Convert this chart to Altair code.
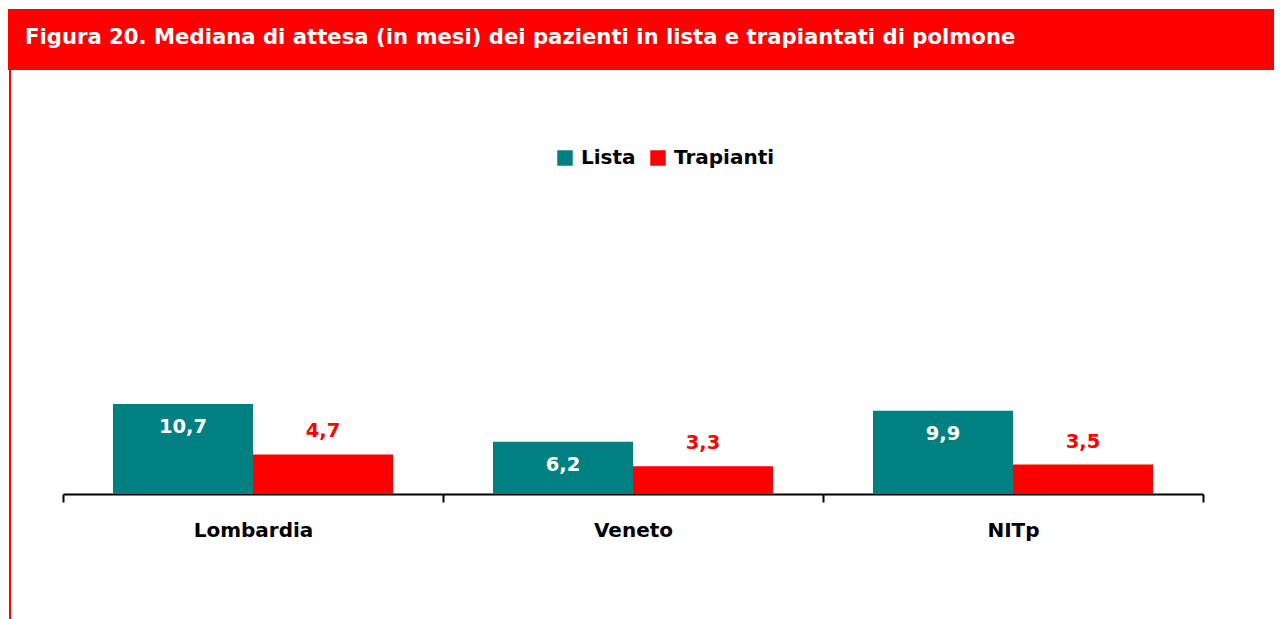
import altair as alt
import pandas as pd

regions = ["Lombardia", "Veneto", "NITp"]
series = ["Lista", "Trapianti"]
lista = [10.7, 6.2, 9.9]
trapianti = [4.7, 3.3, 3.5]
colors = ["#008080", "#FF0000"]
title_text = "Figura 20. Mediana di attesa (in mesi) dei pazienti in lista e trapiantati di polmone"

rows = []
for r, a, b in zip(regions, lista, trapianti):
    rows.append({"regione": r, "serie": "Lista", "valore": a})
    rows.append({"regione": r, "serie": "Trapianti", "valore": b})
df = pd.DataFrame(rows)
df["etichetta"] = df["valore"].map(lambda v: f"{v:.1f}".replace(".", ","))

FONT = "DejaVu Sans"

x_enc = alt.X(
    "regione:N",
    sort=regions,
    scale=alt.Scale(domain=regions, paddingInner=0, paddingOuter=0),
    axis=alt.Axis(
        title=None,
        labelAngle=0,
        labelFont=FONT,
        labelFontSize=20,
        labelFontWeight="bold",
        labelColor="black",
        labelPadding=18,
        tickBand="extent",
        tickSize=8,
        tickWidth=2,
        tickColor="black",
        domainColor="black",
        domainWidth=2,
        grid=False,
    ),
)
xo_enc = alt.XOffset(
    "serie:N",
    sort=series,
    scale=alt.Scale(domain=series, paddingInner=0, paddingOuter=0.357),
)
y_enc = alt.Y("valore:Q", scale=alt.Scale(domain=[0, 57.8]), axis=None)

base = alt.Chart(df)

bars = base.mark_bar().encode(
    x=x_enc,
    xOffset=xo_enc,
    y=y_enc,
    color=alt.Color(
        "serie:N",
        sort=series,
        scale=alt.Scale(domain=series, range=colors),
        legend=alt.Legend(
            title=None,
            orient="none",
            legendX=492,
            legendY=140,
            direction="horizontal",
            symbolType="square",
            symbolSize=240,
            symbolStrokeWidth=0,
            symbolOpacity=1,
            labelFont=FONT,
            labelFontSize=20,
            labelFontWeight="bold",
            labelColor="black",
            labelOffset=6,
            columnPadding=12,
            padding=0,
        ),
    ),
)

lab_lista = base.transform_filter(alt.datum.serie == "Lista").mark_text(
    font=FONT, fontSize=19.5, fontWeight="bold", color="white", baseline="middle", dy=23
).encode(x=x_enc, xOffset=xo_enc, y=y_enc, text="etichetta:N")

lab_trap = base.transform_filter(alt.datum.serie == "Trapianti").mark_text(
    font=FONT, fontSize=19.5, fontWeight="bold", color="#FF0000", baseline="middle", dy=-23
).encode(x=x_enc, xOffset=xo_enc, y=y_enc, text="etichetta:N")

one = pd.DataFrame({"t": [title_text]})

header = alt.Chart(one).mark_rect(color="#FF0000").encode(
    x=alt.value(-55), x2=alt.value(1211), y=alt.value(1), y2=alt.value(62)
)
header_text = alt.Chart(one).mark_text(
    font=FONT, fontSize=21.2, fontWeight="bold", color="white", align="left", baseline="middle"
).encode(x=alt.value(-38), y=alt.value(30), text="t:N")
border = alt.Chart(one).mark_rule(color="#FF0000", strokeWidth=2).encode(
    x=alt.value(-53), y=alt.value(62), y2=alt.value(611)
)

chart = (
    alt.layer(header, header_text, border, bars, lab_lista, lab_trap)
    .properties(
        width=1140,
        height=486,
        autosize=alt.AutoSizeParams(type="none"),
        padding={"left": 55, "top": 0, "right": 71, "bottom": 125},
    )
    .configure(font=FONT)
    .configure_view(strokeWidth=0, stroke="transparent")
)

chart.save("out.html", embed_options={"renderer": "svg", "actions": False})
